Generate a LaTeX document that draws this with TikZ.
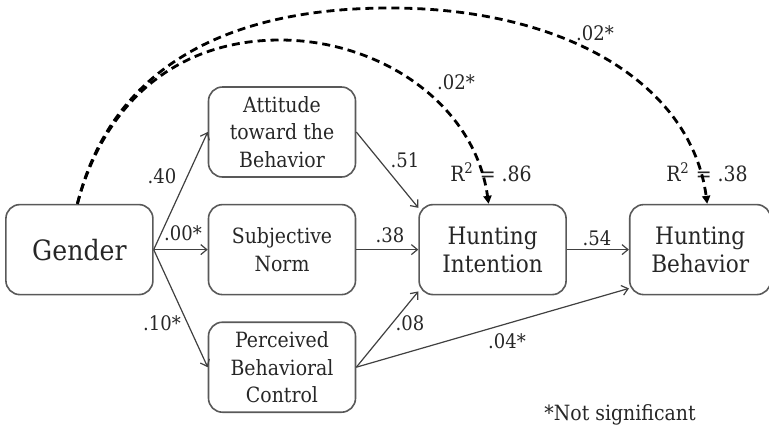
\documentclass[tikz,border=0pt]{standalone}
\usepackage{fontspec}
\setmainfont{DejaVu Serif Condensed}
\usetikzlibrary{positioning}
\usetikzlibrary{arrows.meta}
\tikzset{
    mybox/.style = {rectangle, rounded corners=7pt, thick, draw=black!65, align=center, text=black!85, minimum width=73.5pt, minimum height=45pt, inner sep=1pt, font=\fontsize{10.5}{13.8}\selectfont},
    myboxh/.style = {mybox, font=\fontsize{12}{14}\selectfont},
    myboxg/.style = {mybox, font=\fontsize{14}{17}\selectfont},
    mylabel/.style = {text=black!85, inner sep=0pt, font=\fontsize{10}{12}\selectfont},
    mylabelr/.style = {mylabel, font=\fontsize{10.5}{13}\selectfont},
    edgen/.style = {-{Straight Barb[length=3pt,width=5pt]}, semithick, black!75},
    edged/.style = {-{Triangle[length=4pt,width=4pt]}, line width=1.4pt, black, dash pattern=on 4pt off 2.5pt}, % not significant
}

\begin{document}
\begin{tikzpicture}[x=0.5pt,y=-0.5pt]
  \useasboundingbox (0,0) rectangle (769,430);

  \node[mybox] (att) at (282,132) {Attitude\\toward the\\Behavior};
  \node[mybox, below=13pt of att] (sn) {Subjective\\Norm};
  \node[mybox, below=13pt of sn] (pbc) {Perceived\\Behavioral\\Control};
  \node[myboxg, left=27pt of sn] (gender) {Gender};
  \node[myboxh, right=31pt of sn] (hi) {Hunting\\Intention};
  \node[myboxh, right=31pt of hi, minimum width=70.5pt] (hb) {Hunting\\Behavior};

  \node[mylabel] (l40) at (162,176) {.40};
  \node[mylabel] (l00) at (183,233) {.00*};
  \node[mylabel] (l10) at (162,323) {.10*};
  \node[mylabel] (l51) at (405,160) {.51};
  \node[mylabel] (l38) at (390,235) {.38};
  \node[mylabel] (l08) at (410,323) {.08};
  \node[mylabel] (l54) at (597,238) {.54};
  \node[mylabel] (l04) at (507,341) {.04*};
  \node[mylabel] (l02a) at (456,82) {.02*};
  \node[mylabel] (l02b) at (595,33) {.02*};
  \node[mylabelr] (r2hi) at (491,172) {R\textsuperscript{2} = .86};
  \node[mylabelr] (r2hb) at (707,172) {R\textsuperscript{2} = .38};
  \node[mylabelr] (note) at (620,415) {*Not significant};

  \coordinate (topi) at (280,40);
  \coordinate (topb) at (390,8);

  \draw[edgen] (gender.east) -- (att.west);
  \draw[edgen] (gender.east) -- (sn.west);
  \draw[edgen] (gender.east) -- (pbc.west);
  \draw[edgen] (att.east) -- ([yshift=-2pt]hi.north west);
  \draw[edgen] (sn.east) -- (hi.west);
  \draw[edgen] (pbc.east) -- ([yshift=2pt]hi.south west);
  \draw[edgen] (pbc.east) -- ([yshift=3.5pt]hb.south west);
  \draw[edgen] (hi.east) -- (hb.west);

  \draw[edged] ([xshift=-1pt]gender.north) .. controls +(28,-105) and +(-100,0) .. (topi)
      .. controls +(100,0) and +(-14,-100) .. ([xshift=-2pt]hi.north);
  \draw[edged] ([xshift=-1pt]gender.north) .. controls +(32,-128) and +(-175,0) .. (topb)
      .. controls +(175,0) and +(-16,-120) .. ([xshift=3.5pt]hb.north);

\end{tikzpicture}
\end{document}
